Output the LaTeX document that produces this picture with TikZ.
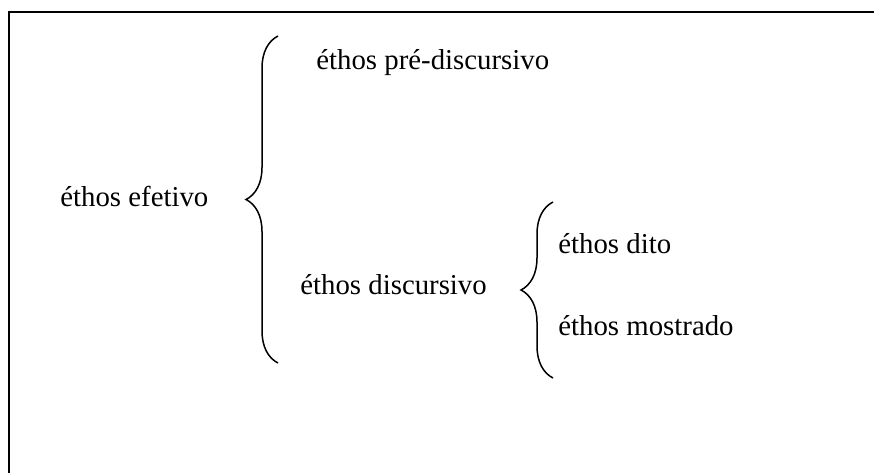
\documentclass[tikz,border=0pt]{standalone}
\usepackage{fontspec}
\setmainfont{Liberation Serif}
\usetikzlibrary{positioning,decorations.pathreplacing}
\tikzset{
  lbl/.style   ={anchor=base west, inner sep=0pt, font=\fontsize{14.4}{17}\selectfont},
  curly/.style ={decorate, decoration={brace, amplitude=16pt}, line width=0.75pt},
  frame/.style ={line width=1pt},
}

\begin{document}
\begin{tikzpicture}[x=0.5pt, y=0.5pt]
\useasboundingbox (0,0) rectangle (874,473);
\draw[frame] (9,0) |- (874,461);
\node[lbl] (efe) at (60,267) {éthos efetivo};
\node[lbl] (pre) at (316,404) {éthos pré-discursivo};
\node[lbl] (dis) at (300,179) {éthos discursivo};
\node[lbl] (dit) at (558,220) {éthos dito};
\node[lbl] (mos) at (558,138) {éthos mostrado};
\coordinate (bigbot) at (278,110);
\coordinate (bigtop) at (278,437);
\coordinate (smbot) at (553,95);
\coordinate (smtop) at (553,271);
\draw[curly] (bigbot) -- (bigtop);
\draw[curly] (smbot) -- (smtop);
\end{tikzpicture}
\end{document}
